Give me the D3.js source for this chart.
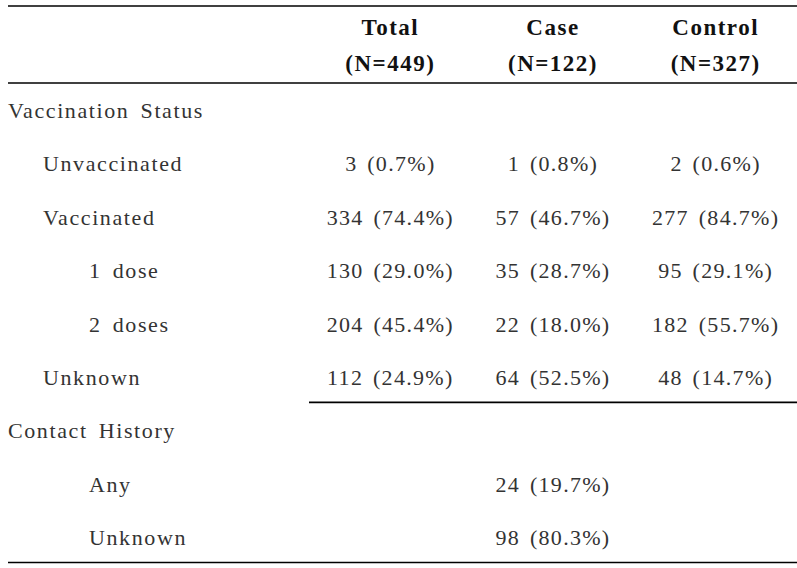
<!DOCTYPE html>
<html>
<head>
<meta charset="utf-8">
<script src="https://cdn.jsdelivr.net/npm/d3@7"></script>
<style>
  body { margin: 0; background: #fff; }
</style>
</head>
<body>
<script>
const width = 797;
const height = 568;
const fontFamily = "'Liberation Serif', 'Times New Roman', 'DejaVu Serif', serif";

// table content
const columns = ['Total', 'Case', 'Control'];
const columnN = [449, 122, 327];

const rowLabels = ['Vaccination Status', 'Unvaccinated', 'Vaccinated', '1 dose', '2 doses',
  'Unknown', 'Contact History', 'Any', 'Unknown'];
const rowLevels = [0, 1, 1, 2, 2, 1, 0, 2, 2];

const totalCounts = [null, 3, 334, 130, 204, 112, null, null, null];
const totalPcts = [null, 0.7, 74.4, 29.0, 45.4, 24.9, null, null, null];
const caseCounts = [null, 1, 57, 35, 22, 64, null, 24, 98];
const casePcts = [null, 0.8, 46.7, 28.7, 18.0, 52.5, null, 19.7, 80.3];
const controlCounts = [null, 2, 277, 95, 182, 48, null, null, null];
const controlPcts = [null, 0.6, 84.7, 29.1, 55.7, 14.7, null, null, null];

const cells = [
  { col: 'Total', counts: totalCounts, pcts: totalPcts },
  { col: 'Case', counts: caseCounts, pcts: casePcts },
  { col: 'Control', counts: controlCounts, pcts: controlPcts }
];

const svg = d3.select('body').append('svg')
  .attr('width', width)
  .attr('height', height)
  .attr('font-family', fontFamily);

const x = d3.scaleBand().domain(columns).range([309, 797]);
const y = d3.scalePoint().domain(d3.range(rowLabels.length)).range([118, 545]);
const indent = d3.scaleOrdinal().domain([0, 1, 2]).range([8, 43, 89]);
const fmt = d3.format('.1f');
const ruleGap = 17.5;

// rules
const rules = [
  { x1: 8, y: 6 },
  { x1: 8, y: 83 },
  { x1: x.range()[0], y: y(5) + ruleGap },
  { x1: 8, y: y(rowLabels.length - 1) + ruleGap }
];
svg.append('g').selectAll('line')
  .data(rules)
  .enter().append('line')
    .attr('x1', d => d.x1)
    .attr('x2', width)
    .attr('y1', d => d.y)
    .attr('y2', d => d.y)
    .attr('stroke', '#000')
    .attr('stroke-width', 1.6);

// header
const head = svg.append('g').selectAll('g')
  .data(columns)
  .enter().append('g')
    .attr('transform', d => `translate(${x(d) + x.bandwidth() / 2}, 0)`);

head.append('text')
  .attr('y', 35)
  .attr('text-anchor', 'middle')
  .attr('font-family', fontFamily)
  .attr('font-size', 23)
  .attr('font-weight', 'bold')
  .attr('letter-spacing', 1.5)
  .attr('fill', '#111')
  .text(d => d);

head.append('text')
  .attr('y', 71)
  .attr('text-anchor', 'middle')
  .attr('font-family', fontFamily)
  .attr('font-size', 23)
  .attr('font-weight', 'bold')
  .attr('letter-spacing', 1.5)
  .attr('fill', '#111')
  .text((d, i) => `(N=${columnN[i]})`);

// row labels
svg.append('g').selectAll('text')
  .data(rowLabels)
  .enter().append('text')
    .attr('x', (d, i) => indent(rowLevels[i]))
    .attr('y', (d, i) => y(i))
    .attr('font-family', fontFamily)
    .attr('font-size', 22)
    .attr('letter-spacing', 1.6)
    .attr('word-spacing', 4)
    .attr('fill', '#333')
    .text(d => d);

// values
cells.forEach(c => {
  const vals = c.counts
    .map((n, i) => ({ i, n, p: c.pcts[i] }))
    .filter(d => d.n !== null);

  svg.append('g').selectAll('text')
    .data(vals)
    .enter().append('text')
      .attr('x', x(c.col) + x.bandwidth() / 2)
      .attr('y', d => y(d.i))
      .attr('text-anchor', 'middle')
      .attr('font-family', fontFamily)
      .attr('font-size', 22)
      .attr('letter-spacing', 1.3)
      .attr('word-spacing', 3)
      .attr('fill', '#333')
      .text(d => `${d.n} (${fmt(d.p)}%)`);
});
</script>
</body>
</html>
